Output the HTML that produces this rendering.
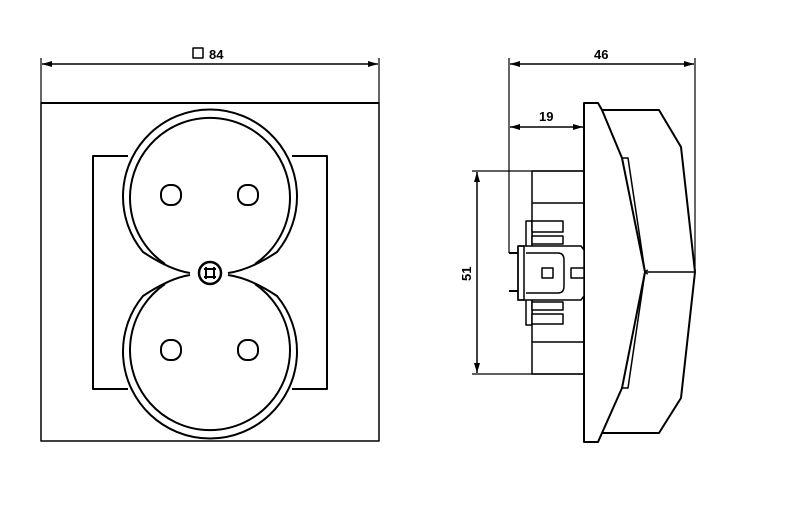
<!DOCTYPE html>
<html><head><meta charset="utf-8"><style>
html,body{margin:0;padding:0;background:#fff;width:800px;height:515px;overflow:hidden}
svg{display:block}
text{font-family:"Liberation Sans",sans-serif;font-weight:bold;font-size:13px;fill:#000}
</style></head><body>
<svg width="800" height="515" viewBox="0 0 800 515" fill="none" stroke="#000" stroke-width="2" stroke-linejoin="round">
<defs><marker id="a" viewBox="0 0 10 6" refX="10" refY="3" markerWidth="10" markerHeight="6" orient="auto-start-reverse" markerUnits="userSpaceOnUse"><path d="M0,0 L10,3 L0,6 Z" fill="#000" stroke="none"/></marker></defs>
<!-- left view -->
<line x1="41" y1="58" x2="41" y2="103" stroke-width="1.2"/>
<line x1="379" y1="58" x2="379" y2="103" stroke-width="1.2"/>
<line x1="42" y1="64" x2="378" y2="64" stroke-width="1.5" marker-start="url(#a)" marker-end="url(#a)"/>
<rect x="193" y="48" width="10" height="10" stroke-width="1.5"/>
<text x="209" y="59" stroke="none">84</text>
<line x1="41" y1="103" x2="379" y2="103" stroke-width="2"/>
<rect x="41" y="103" width="338" height="338" stroke-width="1.5"/>
<path d="M128,156 L93,156 L93,389 L128,389" stroke-width="2"/>
<path d="M292,156 L327,156 L327,389 L292,389" stroke-width="2"/>
<!-- outer figure 8 -->
<path d="M190,273 Q170,270 143,252 A87 87 0 1 1 277,252 Q250,270 228,273" fill="#fff"/>
<path d="M190,275 Q170,278 143,296 A87 87 0 1 0 277,296 Q250,278 228,275" fill="#fff"/>
<path d="M165,264 A80 80 0 1 1 255,264"/>
<path d="M165,284 A80 80 0 1 0 255,284"/>
<circle cx="210" cy="273" r="11" stroke-width="2.5"/>
<path d="M204,269 h12 M204,277 h12 M206,267 v12 M214,267 v12" stroke-width="2"/>
<rect x="161" y="185" width="20" height="20" rx="9"/>
<rect x="238" y="185" width="20" height="20" rx="9"/>
<rect x="161" y="340" width="20" height="20" rx="9"/>
<rect x="238" y="340" width="20" height="20" rx="9"/>
<!-- right view dims -->
<line x1="509" y1="58" x2="509" y2="253" stroke-width="1.2"/>
<line x1="695" y1="58" x2="695" y2="272" stroke-width="1.2"/>
<line x1="510" y1="64" x2="694" y2="64" stroke-width="1.5" marker-start="url(#a)" marker-end="url(#a)"/>
<text x="594" y="59" stroke="none">46</text>
<line x1="510" y1="127" x2="583" y2="127" stroke-width="1.5" marker-start="url(#a)" marker-end="url(#a)"/>
<text x="539" y="121" stroke="none">19</text>
<line x1="472" y1="171" x2="584" y2="171" stroke-width="1.2"/>
<line x1="472" y1="374" x2="584" y2="374" stroke-width="1.2"/>
<line x1="477" y1="172" x2="477" y2="373" stroke-width="1.5" marker-start="url(#a)" marker-end="url(#a)"/>
<text x="0" y="0" stroke="none" transform="translate(471,281) rotate(-90)">51</text>
<!-- plate -->
<path d="M584,103 L598,103 L602,110 L622,158 L645,272 L622,388 L602,433 L598,442 L584,442 Z"/>
<path d="M602,110 L659,110 L681,147 L695,272 L681,398 L659,433 L602,433"/>
<path d="M622,158 L628,158 L645,272 L628,388 L622,388" stroke-width="1.5"/>
<path d="M645,272 L695,272" stroke-width="1.5"/>
<path d="M648,270 q-6,2 0,4" stroke-width="1.2"/>
<!-- box -->
<rect x="532" y="171" width="52" height="203" stroke-width="1.5"/>
<line x1="532" y1="203" x2="584" y2="203" stroke-width="1.5"/>
<line x1="532" y1="342" x2="584" y2="342" stroke-width="1.5"/>
<rect x="526" y="221" width="6" height="104" fill="#fff" stroke-width="1.5"/>
<rect x="532" y="221" width="31" height="11" fill="#fff" stroke-width="1.5"/>
<rect x="532" y="236" width="31" height="8" fill="#fff" stroke-width="1.5"/>
<rect x="532" y="302" width="31" height="8" fill="#fff" stroke-width="1.5"/>
<rect x="532" y="314" width="31" height="10" fill="#fff" stroke-width="1.5"/>
<path d="M518,246 L581,246 L584,250 L584,296 L581,300 L518,300 Z" fill="#fff" stroke-width="1.5"/>
<rect x="518" y="246" width="6" height="54" stroke-width="1.5"/>
<path d="M526,253 L558,253 Q564,253 564,260 L564,286 Q564,293 558,293 L526,293" stroke-width="1.5"/>
<rect x="542" y="268" width="11" height="10" stroke-width="1.5"/>
<path d="M584,268 L571,268 L571,278 L584,278" stroke-width="1.5"/>
<path d="M509,253 L518,253 M509,291 L518,291" stroke-width="2"/>
</svg>
</body></html>
